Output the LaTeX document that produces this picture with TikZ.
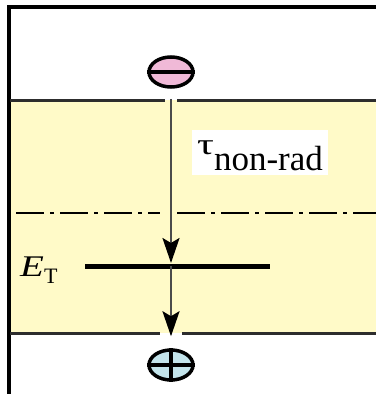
\documentclass[tikz,border=0pt]{standalone}
\usepackage{fontspec}
\setmainfont{Liberation Serif}
\definecolor{BandYellow}{RGB}{255,250,200}
\definecolor{ElecPink}{RGB}{240,185,215}
\definecolor{HoleBlue}{RGB}{195,228,235}
\definecolor{EdgeGray}{RGB}{45,45,45}
\definecolor{ArrowGray}{RGB}{75,75,75}
\usetikzlibrary{arrows.meta, shapes.geometric}

\begin{document}
\begin{tikzpicture}[x=1pt,y=-1pt,
        carrier/.style={ellipse,draw=black,line width=3.5pt,minimum width=44pt,minimum height=30pt,inner sep=0pt},
        edge/.style={draw=EdgeGray,line width=3pt},
        flow/.style={draw=ArrowGray,line width=2.5pt,-{Stealth[length=25pt,width=17pt,inset=5pt,color=black]}}]
        \useasboundingbox (0,0) rectangle (376,394);
        \fill[BandYellow] (10,100) rectangle (376,333);
        \draw[line width=3.5pt] (9,394) -- (9,7) -- (376,7);
        \draw[edge] (10,100) -- (165,100) (177,100) -- (376,100);
        \draw[edge] (10,333) -- (160,333) (182,333) -- (376,333);
        \draw[line width=2.5pt,dash pattern=on 28pt off 6pt on 4pt off 6pt]
          (16,213) -- (160,213) (177,213) -- (376,213);
        \node[carrier,fill=ElecPink] (elec) at (171,72) {};
        \draw[line width=3.5pt] (elec.west) -- (elec.east);
        \node[carrier,fill=HoleBlue] (hole) at (171,365) {};
        \draw[line width=3.5pt] (hole.west) -- (hole.east) (hole.north) -- (hole.south);
        \coordinate (trap) at (171,266);
        \draw[line width=5pt] (85,266) -- (270,266);
        \node[anchor=base west,inner sep=0pt] (lvl) at (20,276)
          {\scalebox{1.3}[1]{\fontsize{30}{30}\selectfont\itshape E}\raisebox{-7pt}{\fontsize{22}{22}\selectfont T}};
        \draw[flow,shorten <=10pt,shorten >=3pt] (elec.south) -- (trap);
        \draw[flow,shorten >=12pt] (trap) -- (hole.north);
        \node[fill=white,anchor=base west,inner xsep=5pt,inner ysep=0pt,text height=40pt,text depth=5pt] (tau) at (192,170)
          {\raisebox{16pt}{\scalebox{1.4}[1]{\fontsize{30}{30}\selectfont τ}}{\fontsize{35}{35}\selectfont non-rad}};
      \end{tikzpicture}
\end{document}
